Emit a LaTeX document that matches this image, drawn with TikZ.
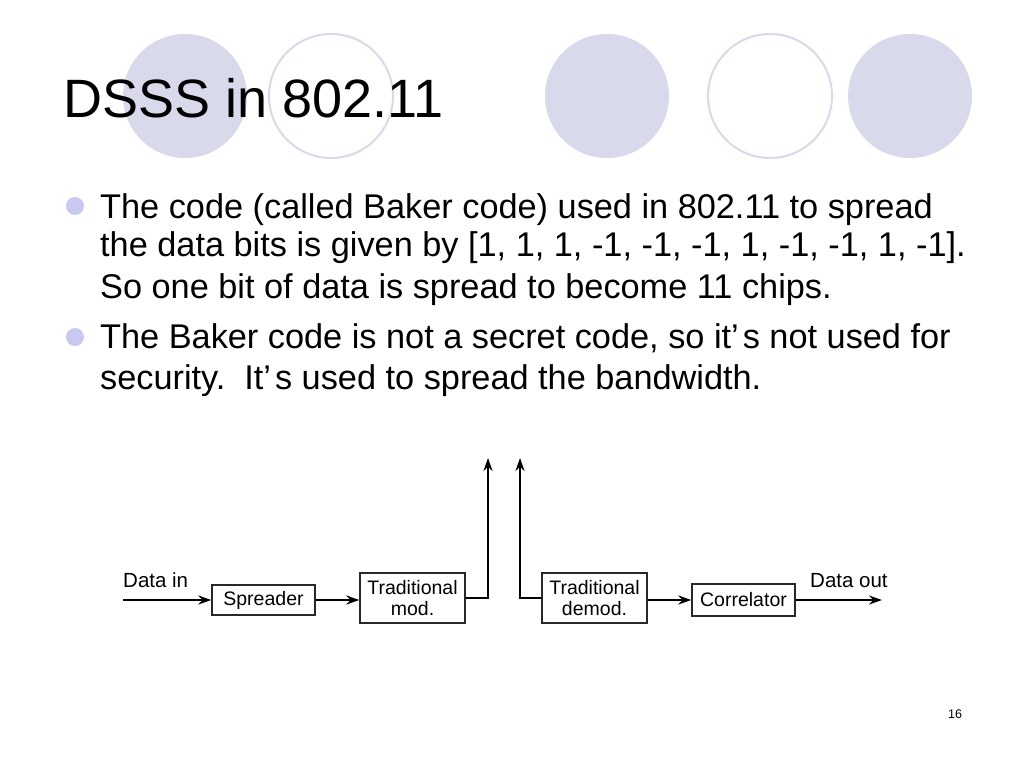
\documentclass[tikz,border=0pt]{standalone}
\usepackage{fontspec}
\setmainfont{Liberation Sans}
\usetikzlibrary{arrows.meta}
\definecolor{lav}{RGB}{217,217,236}
\definecolor{bul}{RGB}{200,200,240}
\definecolor{boxline}{RGB}{40,40,40}
\tikzset{
  deco/.style={circle, minimum size=124pt, inner sep=0pt},
  decofill/.style={deco, fill=lav},
  decoring/.style={deco, draw=lav, line width=2pt, fill=white},
  bulletdot/.style={circle, fill=bul, minimum size=18pt, inner sep=0pt},
  bodyline/.style={anchor=base west, inner sep=0pt, font=\fontsize{34.3}{40}\selectfont},
  blk/.style={draw=boxline, line width=1.4pt, fill=white, inner sep=0pt, align=center, font=\fontsize{19.5}{21}\selectfont},
  lbl/.style={anchor=base west, inner sep=0pt, font=\fontsize{20.5}{22}\selectfont},
  arr/.style={line width=2.8pt, -{Stealth[length=13pt,width=9pt]}}
}
\begin{document}
\begin{tikzpicture}[x=1pt,y=-1pt]
\path[use as bounding box, fill=white] (0,0) rectangle (1024,768);
% decorative circles
\node[decofill] (c1) at (185,96) {};
\node[decoring] (c2) at (331,96) {};
\node[decofill] (c3) at (607,96) {};
\node[decoring] (c4) at (770,96) {};
\node[decofill] (c5) at (910,96) {};
% title
\node[anchor=base west, inner sep=0pt, font=\fontsize{54}{60}\selectfont] (title) at (63,117) {DSSS in 802.11};
% bullets
\node[bulletdot] (b1) at (75,206) {};
\node[bulletdot] (b2) at (75,337) {};
\node[bodyline] (l1) at (100,218) {The code (called Baker code) used in 802.11 to spread};
\node[bodyline] (l2) at (100,256) {the data bits is given by [1, 1, 1, -1, -1, -1, 1, -1, -1, 1, -1].};
\node[bodyline] (l3) at (100,298) {So one bit of data is spread to become 11 chips.};
\node[bodyline] (l4) at (100,348) {The Baker code is not a secret code, so it’\kern4pt s not used for};
\node[bodyline] (l5) at (100,389) {security.\ \ It’\kern4pt s used to spread the bandwidth.};
% diagram
\node[blk, minimum width=103pt, minimum height=30pt] (spr) at (263.5,600) {Spreader};
\node[blk, minimum width=105pt, minimum height=50pt] (tm) at (412.5,598) {Traditional\\mod.};
\node[blk, minimum width=105pt, minimum height=50pt] (td) at (594.5,598) {Traditional\\demod.};
\node[blk, minimum width=103pt, minimum height=32pt] (cor) at (743.5,600) {Correlator};
\node[lbl] (din) at (123,587) {Data in};
\node[lbl] (dout) at (810,587) {Data out};
\coordinate (in) at (123,600);
\coordinate (up1) at (488,458);
\coordinate (up2) at (520,458);
\coordinate (out) at (882,600);
\draw[arr] (in) -- (spr.west);
\draw[arr] (spr.east) -- (spr.east -| tm.west);
\draw[arr] (tm.east) -| (up1);
\draw[arr] (td.west) -| (up2);
\draw[arr] (td.east |- cor.west) -- (cor.west);
\draw[arr] (cor.east) -- (out);
% page number
\node[anchor=base west, inner sep=0pt, font=\fontsize{12.5}{14}\selectfont] (pg) at (948,718) {16};
\end{tikzpicture}
\end{document}
